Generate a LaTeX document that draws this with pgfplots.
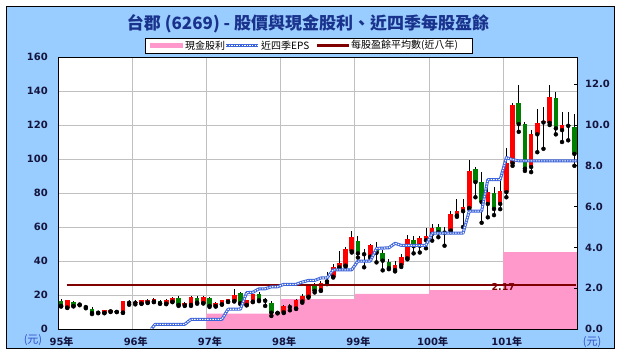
\documentclass[border=0pt]{standalone}
\usepackage{pgfplots}
\pgfplotsset{compat=1.18}
\usepackage{pgfplotstable}
\usepackage{fontspec}
\setmainfont{DejaVu Sans}
\newfontfamily\cjk{Noto Sans CJK TC}

\definecolor{bgblue}{RGB}{153,204,255}
\definecolor{divpink}{RGB}{255,153,204}
\definecolor{epsblue}{RGB}{60,100,220}
\definecolor{avgred}{RGB}{128,0,0}
\definecolor{upred}{RGB}{255,0,0}
\definecolor{dngreen}{RGB}{0,128,0}
\definecolor{titleblue}{RGB}{25,50,140}
\definecolor{ticknavy}{RGB}{20,20,60}
\definecolor{unitblue}{RGB}{50,80,200}
\definecolor{gridgray}{RGB}{192,192,192}

% up (red) candles: x = month index + 0.5
\pgfplotstableread{
x O H L C
1.5 12.6 17.3 12.4 16.9
7.5 9.5 11.3 9.3 10.9
8.5 10.4 11.2 10.0 10.9
10.5 9.6 16.6 9.5 16.5
11.5 15.4 17.2 14.3 15.9
12.5 15.4 17.0 14.5 15.9
13.5 15.0 17.3 14.8 16.9
14.5 15.6 17.4 15.3 17.2
15.5 16.1 18.4 15.8 17.9
17.5 14.95 17.4 14.6 16.9
18.5 16.1 18.6 15.8 18.1
20.5 13.9 15.9 13.6 15.5
21.5 14.2 19.5 13.6 18.9
23.5 15.3 19.3 15.0 18.9
25.5 13.5 15.9 13.2 15.5
26.5 14.6 17.3 14.3 16.9
27.5 16.1 17.9 15.9 17.5
28.5 16.5 23.4 16.2 20.1
30.5 14.2 17.3 13.9 16.9
31.5 16.1 22.0 15.8 20.5
36.5 9.8 14.2 9.4 13.5
37.5 12.9 15.0 11.0 13.5
38.5 12.1 17.5 11.8 16.9
39.5 16.2 20.5 15.5 19.5
40.5 19.0 26.3 18.5 25.3
42.5 22.8 28.2 22.4 27.3
43.5 28.0 33.3 26.4 28.7
44.5 30.8 38.2 30.3 36.5
45.5 36.3 45.6 35.8 39.0
46.5 37.3 48.0 36.6 47.0
47.5 45.7 57.8 45.0 54.2
50.5 42.6 50.0 41.7 49.5
54.5 34.7 40.2 33.9 37.8
55.5 37.6 44.0 36.5 42.5
56.5 41.6 55.5 41.0 53.2
58.5 49.0 54.5 45.0 53.7
59.5 52.2 59.5 47.5 54.9
60.5 55.9 62.0 52.0 59.2
63.5 57.9 69.7 57.0 67.7
64.5 66.7 76.5 66.0 69.7
65.5 69.3 76.6 60.0 71.6
66.5 71.2 99.2 70.5 92.9
69.5 73.6 84.4 65.7 80.5
71.5 73.6 87.0 70.5 81.4
72.5 80.5 106.7 77.5 97.5
73.5 97.5 133.0 96.0 131.5
76.5 95.3 117.0 92.3 115.0
77.5 114.5 129.7 104.0 121.0
78.5 121.5 130.6 106.0 122.3
79.5 121.3 143.4 120.0 136.4
81.5 117.0 127.5 110.0 119.8
}\upc

% down (green) candles
\pgfplotstableread{
x O H L C
0.5 16.5 17.5 13.2 13.6
2.5 16.1 16.5 13.3 13.5
3.5 14.9 15.3 14.0 14.4
4.5 13.4 14.2 12.2 12.9
5.5 12.0 12.8 8.8 9.4
6.5 10.2 10.6 9.3 9.6
9.5 10.4 10.6 10.0 10.0
16.5 16.5 16.9 14.8 15.1
19.5 18.5 19.2 13.6 14.2
22.5 18.5 19.5 14.9 15.5
24.5 18.1 18.7 13.0 13.6
29.5 20.9 22.0 14.6 15.2
32.5 20.5 21.5 16.4 16.9
33.5 17.5 18.5 13.6 16.6
34.5 15.5 16.5 7.7 9.6
35.5 10.0 10.5 9.2 9.5
41.5 25.3 26.8 21.5 22.5
48.5 52.0 55.0 42.0 44.5
49.5 44.6 47.0 36.3 44.0
51.5 46.2 51.4 39.2 44.8
52.5 45.0 46.5 34.5 40.2
53.5 39.6 41.1 35.2 35.8
57.5 52.6 55.0 44.5 48.7
61.5 60.2 61.8 54.0 56.9
62.5 57.3 59.8 49.0 56.7
67.5 94.3 95.5 77.5 86.4
68.5 86.4 92.3 62.5 74.6
70.5 79.9 83.5 67.0 70.6
74.5 133.0 143.5 116.0 120.5
75.5 120.8 121.8 93.0 94.3
80.5 135.6 139.5 114.5 118.0
82.5 120.2 127.7 111.0 119.5
83.5 119.0 126.7 96.0 103.0
}\dnc

% trailing four-quarter EPS (right axis)
\pgfplotstableread{
x v
15.1 0.0
15.7 0.23
20.5 0.23
21.5 0.47
26.5 0.47
27.5 0.97
29.5 0.97
30.5 1.78
31.5 1.80
32.5 1.97
33.5 1.97
34.5 2.07
35.5 2.07
36.5 2.19
38.5 2.19
39.5 2.30
40.5 2.38
41.5 2.38
42.5 2.50
43.5 2.50
44.5 2.90
47.5 2.90
48.5 3.33
50.5 3.33
51.5 3.95
53.5 3.98
54.5 4.20
55.5 4.10
59.5 4.10
60.5 4.70
65.5 4.70
66.5 5.78
68.5 5.78
69.5 7.32
71.5 7.32
72.5 8.40
73.5 8.30
74.5 8.24
84.0 8.24
}\eps

\begin{document}
\begin{tikzpicture}[x=1pt,y=1pt]
\useasboundingbox (0,0) rectangle (621,357);
\fill[white] (0,0) rectangle (621,357);
\filldraw[fill=bgblue, draw=black, line width=0.8pt] (6,9) rectangle (614,351);

\pgfplotsset{base/.style={at={(58pt,28pt)}, anchor=south west, width=519.5pt, height=272pt, scale only axis, xmin=0, xmax=84}}

% axis 1: background, grid, left ticks, x labels
\begin{axis}[base, ymin=0, ymax=160,
  ytick={0,20,...,160}, xtick={0,12,...,72},
  xticklabels={{95\cjk 年},{96\cjk 年},{97\cjk 年},{98\cjk 年},{99\cjk 年},{100\cjk 年},{101\cjk 年}},
  grid=major, major grid style={draw=gridgray, line width=0.8pt},
  axis background/.style={fill=white},
  major tick length=0pt,
  axis line style={draw=black, line width=0.8pt},
  yticklabel style={font=\fontsize{10}{12}\selectfont\bfseries, text=ticknavy, anchor=east, inner sep=0pt, xshift=-10pt, /pgf/number format/assume math mode=true},
  xticklabel style={font=\fontsize{10}{12}\selectfont\bfseries, text=ticknavy, anchor=center, inner sep=0pt, yshift=-13pt, xshift=3.5pt}]
\addplot[draw=none] coordinates {(0,0)};
\end{axis}

% axis 2: cash dividends (right scale)
\begin{axis}[base, ymin=0, ymax=13.33, hide axis]
\addplot[fill=divpink, draw=none, const plot mark left] coordinates {(24,0.75) (36,1.46) (48,1.72) (60,1.90) (72,3.77) (84,3.77)} \closedcycle;
\end{axis}

% axis 3: monthly candles (left scale)
\begin{axis}[base, ymin=0, ymax=160, hide axis]
\addplot[only marks, mark=none, error bars/.cd, y dir=plus, y explicit, error mark=none, error bar style={draw=black, line width=0.9pt}] table[x=x, y=L, y error expr=\thisrow{H}-\thisrow{L}] {\upc};
\addplot[only marks, mark=none, error bars/.cd, y dir=plus, y explicit, error mark=none, error bar style={draw=black, line width=0.9pt}] table[x=x, y=L, y error expr=\thisrow{H}-\thisrow{L}] {\dnc};
\addplot[only marks, mark=none, error bars/.cd, y dir=plus, y explicit, error mark=none, error bar style={draw=upred, line width=4.6pt}] table[x=x, y=O, y error expr=\thisrow{C}-\thisrow{O}] {\upc};
\addplot[only marks, mark=none, error bars/.cd, y dir=plus, y explicit, error mark=none, error bar style={draw=dngreen, line width=4.6pt}] table[x=x, y=C, y error expr=\thisrow{O}-\thisrow{C}] {\dnc};
\end{axis}

% axis 4: EPS, average, right ticks
\begin{axis}[base, ymin=0, ymax=13.33,
  axis x line=none, axis y line*=right,
  ytick={0,2,...,12}, tick align=inside, major tick length=3pt,
  tick style={draw=black, line width=0.6pt},
  axis line style={draw=black, line width=0.8pt},
  yticklabel style={font=\fontsize{10}{12}\selectfont\bfseries, text=ticknavy, anchor=west, inner sep=0pt, xshift=7.5pt,
    /pgf/number format/fixed, /pgf/number format/fixed zerofill, /pgf/number format/precision=1, /pgf/number format/assume math mode=true}]
\addplot[avgred, line width=2.2pt] coordinates {(1.45,2.17) (83.8,2.17)};
\addplot[epsblue, line width=3pt, line join=round] table[x=x, y=v] {\eps};
\addplot[white, line width=1.1pt, dash pattern=on 1.4pt off 1.2pt] table[x=x, y=v] {\eps};
\node[font=\fontsize{9.5}{11}\selectfont\bfseries, text=avgred, inner sep=0pt] at (axis cs:72,2.06) {2.17};
\draw[black, line width=0.8pt] (rel axis cs:0,0) rectangle (rel axis cs:1,1);
\end{axis}

% title
\node[font=\cjk\fontsize{17}{20}\selectfont\bfseries, text=titleblue] at (308,333) {台郡 (6269) - 股價與現金股利、近四季每股盈餘};

% legend
\filldraw[fill=white, draw=black, line width=0.8pt] (145,304) rectangle (472,319);
\fill[divpink] (150,309) rectangle (183,314);
\node[anchor=west, inner sep=0pt, font=\cjk\fontsize{10}{12}\selectfont] at (185,311.5) {現金股利};
\draw[epsblue, line width=3pt] (226,311.5) -- (258,311.5);
\draw[white, line width=1.1pt, dash pattern=on 1.4pt off 1.2pt] (226,311.5) -- (258,311.5);
\node[anchor=west, inner sep=0pt, font=\cjk\fontsize{10}{12}\selectfont] at (261,311.5) {近四季EPS};
\draw[avgred, line width=2.2pt] (317,311.5) -- (349,311.5);
\node[anchor=west, inner sep=0pt, font=\cjk\fontsize{10}{12}\selectfont] at (351,311.5) {每股盈餘平均數(近八年)};

% units
\node[font=\cjk\fontsize{11}{13}\selectfont, text=unitblue] at (33,17) {(元)};
\node[font=\cjk\fontsize{11}{13}\selectfont, text=unitblue] at (592,15) {(元)};
\end{tikzpicture}
\end{document}
